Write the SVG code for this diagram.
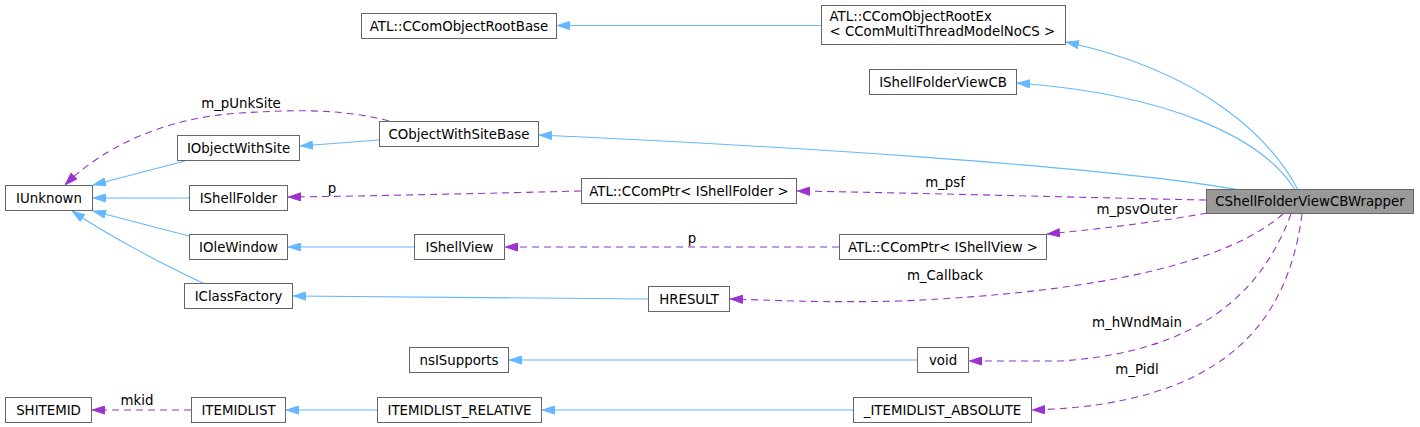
<svg xmlns="http://www.w3.org/2000/svg" width="1420" height="427" viewBox="0 0 1420 427">
<defs>
<style>
.n rect{fill:#ffffff;stroke:#666666;stroke-width:1}
.n.main rect{fill:#999999}
text{font-family:"DejaVu Sans","Liberation Sans",sans-serif;font-size:13.33px;fill:#000000}
.n text{text-anchor:middle}
.lbl{text-anchor:middle}
.inh{fill:none;stroke:#63b8ff;stroke-width:1.1}
.use{fill:none;stroke:#9a32cd;stroke-width:1.1;stroke-dasharray:7,5}
</style>
<marker id="ab" viewBox="0 0 13 9" refX="13" refY="4.5" markerWidth="13" markerHeight="9" markerUnits="userSpaceOnUse" orient="auto">
<path d="M0.5,0.5 L12.5,4.5 L0.5,8.5 z" fill="#63b8ff" stroke="#63b8ff" stroke-dasharray="none"/>
</marker>
<marker id="ap" viewBox="0 0 13 9" refX="13" refY="4.5" markerWidth="13" markerHeight="9" markerUnits="userSpaceOnUse" orient="auto">
<path d="M0.5,0.5 L12.5,4.5 L0.5,8.5 z" fill="#9a32cd" stroke="#9a32cd" stroke-dasharray="none"/>
</marker>
</defs>
<rect x="0" y="0" width="1420" height="427" fill="#ffffff"/>

<g id="connectors">
<path class="inh" marker-end="url(#ab)" d="M821,25.5 L557,25.5"/>
<path class="inh" marker-end="url(#ab)" d="M1298,190 C1272,140 1205,72 1066,42"/>
<path class="inh" marker-end="url(#ab)" d="M1295,190 C1262,136 1165,94 1017,83"/>
<path class="inh" marker-end="url(#ab)" d="M1240,190 C1100,165 760,145 539,135"/>
<path class="inh" marker-end="url(#ab)" d="M379,140 L300,146"/>
<path class="inh" marker-end="url(#ab)" d="M185,161 L93,185"/>
<path class="inh" marker-end="url(#ab)" d="M189,198 L93,198"/>
<path class="inh" marker-end="url(#ab)" d="M189,236 L93,211"/>
<path class="inh" marker-end="url(#ab)" d="M205,284 C170,268 112,238 72,211"/>
<path class="inh" marker-end="url(#ab)" d="M414,247 L288,247"/>
<path class="inh" marker-end="url(#ab)" d="M648,299 L293,296"/>
<path class="inh" marker-end="url(#ab)" d="M917,360 L509,360"/>
<path class="inh" marker-end="url(#ab)" d="M853,410 L542,410"/>
<path class="inh" marker-end="url(#ab)" d="M377,410 L286,410"/>

<path class="use" marker-end="url(#ap)" d="M389,121 C340,108 290,110 240,113 C160,118 100,150 65,185"/>
<path class="use" marker-end="url(#ap)" d="M581,191 C500,193 380,196 288,197"/>
<path class="use" marker-end="url(#ap)" d="M1206,200 C1100,198 920,193 797,191"/>
<path class="use" marker-end="url(#ap)" d="M1207,213 C1170,220 1110,228 1047,234"/>
<path class="use" marker-end="url(#ap)" d="M839,247 L505,247"/>
<path class="use" marker-end="url(#ap)" d="M1283,214 C1230,260 1110,292 900,301 C820,303 770,300 730,299"/>
<path class="use" marker-end="url(#ap)" d="M1291,214 C1262,292 1200,352 1060,361 L969,361"/>
<path class="use" marker-end="url(#ap)" d="M1302,214 C1288,322 1225,405 1032,410"/>
<path class="use" marker-end="url(#ap)" d="M191,410 L92,410"/>

<text class="lbl" x="241" y="108">m_pUnkSite</text>
<text class="lbl" x="332" y="193">p</text>
<text class="lbl" x="945" y="187">m_psf</text>
<text class="lbl" x="1137" y="214">m_psvOuter</text>
<text class="lbl" x="692" y="243">p</text>
<text class="lbl" x="945" y="280">m_Callback</text>
<text class="lbl" x="1137" y="327">m_hWndMain</text>
<text class="lbl" x="1137" y="374">m_Pidl</text>
<text class="lbl" x="137" y="405">mkid</text>
</g>

<g id="node-CShellFolderViewCBWrapper" class="n main"><rect x="1206.5" y="189.5" width="207" height="24"/><text x="1310" y="206">CShellFolderViewCBWrapper</text></g>
<g id="node-CComObjectRootEx" class="n"><rect x="821.5" y="5.5" width="244" height="39"/><text x="829.5" y="20.5" style="text-anchor:start">ATL::CComObjectRootEx</text><text x="829.5" y="36" style="text-anchor:start">&lt; CComMultiThreadModelNoCS &gt;</text></g>
<g id="node-CComObjectRootBase" class="n"><rect x="361.5" y="13.5" width="195" height="25"/><text x="459" y="30.5">ATL::CComObjectRootBase</text></g>
<g id="node-IShellFolderViewCB" class="n"><rect x="869.5" y="69.5" width="147" height="25"/><text x="943" y="86.5">IShellFolderViewCB</text></g>
<g id="node-CObjectWithSiteBase" class="n"><rect x="379.5" y="121.5" width="159" height="25"/><text x="459" y="138.5">CObjectWithSiteBase</text></g>
<g id="node-IObjectWithSite" class="n"><rect x="177.5" y="135.5" width="122" height="25"/><text x="238.5" y="152.5">IObjectWithSite</text></g>
<g id="node-IUnknown" class="n"><rect x="5.5" y="185.5" width="87" height="25"/><text x="49" y="202.5">IUnknown</text></g>
<g id="node-IShellFolder" class="n"><rect x="189.5" y="185.5" width="98" height="25"/><text x="238.5" y="202.5">IShellFolder</text></g>
<g id="node-CComPtr-IShellFolder" class="n"><rect x="581.5" y="178.5" width="215" height="25"/><text x="689" y="195.5">ATL::CComPtr&lt; IShellFolder &gt;</text></g>
<g id="node-IOleWindow" class="n"><rect x="189.5" y="234.5" width="98" height="25"/><text x="238.5" y="251.5">IOleWindow</text></g>
<g id="node-IShellView" class="n"><rect x="414.5" y="234.5" width="90" height="25"/><text x="459.5" y="251.5">IShellView</text></g>
<g id="node-CComPtr-IShellView" class="n"><rect x="839.5" y="234.5" width="207" height="25"/><text x="943" y="251.5">ATL::CComPtr&lt; IShellView &gt;</text></g>
<g id="node-IClassFactory" class="n"><rect x="184.5" y="283.5" width="108" height="25"/><text x="238.5" y="300.5">IClassFactory</text></g>
<g id="node-HRESULT" class="n"><rect x="648.5" y="286.5" width="81" height="25"/><text x="689" y="303.5">HRESULT</text></g>
<g id="node-nsISupports" class="n"><rect x="409.5" y="347.5" width="99" height="25"/><text x="459" y="364.5">nsISupports</text></g>
<g id="node-void" class="n"><rect x="917.5" y="347.5" width="51" height="25"/><text x="943" y="364.5">void</text></g>
<g id="node-SHITEMID" class="n"><rect x="5.5" y="397.5" width="86" height="25"/><text x="48.5" y="414.5">SHITEMID</text></g>
<g id="node-ITEMIDLIST" class="n"><rect x="191.5" y="397.5" width="94" height="25"/><text x="238.5" y="414.5">ITEMIDLIST</text></g>
<g id="node-ITEMIDLIST_RELATIVE" class="n"><rect x="377.5" y="397.5" width="164" height="25"/><text x="459.5" y="414.5">ITEMIDLIST_RELATIVE</text></g>
<g id="node-ITEMIDLIST_ABSOLUTE" class="n"><rect x="853.5" y="397.5" width="178" height="25"/><text x="942.5" y="414.5">_ITEMIDLIST_ABSOLUTE</text></g>
</svg>
